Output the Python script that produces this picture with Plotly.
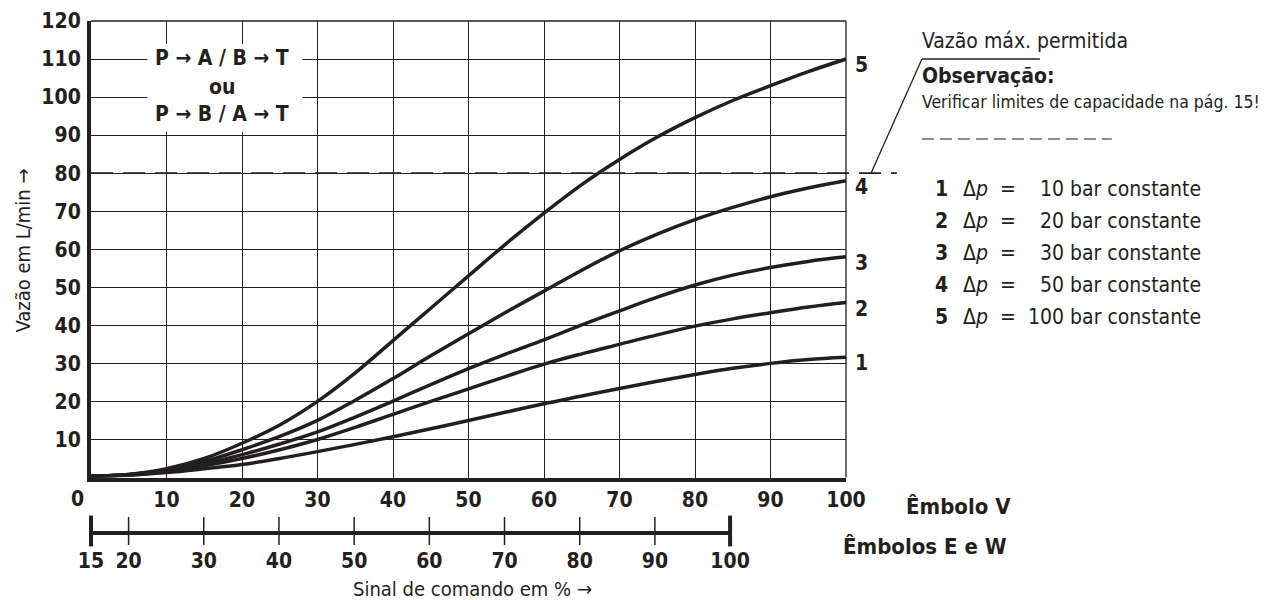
import plotly.graph_objects as go

# ---------------- data ----------------
signal_v = [0, 5, 10, 15, 20, 25, 30, 35, 40, 45, 50, 55, 60, 65, 70, 75, 80, 85, 90, 95, 100]
flow_5 = [0.3, 0.8, 2.3, 5.0, 9.0, 13.8, 20.0, 27.5, 36.0, 44.5, 53.0, 61.5, 69.5, 77.0, 83.6, 89.5, 94.6, 99.1, 103.0, 106.7, 110.0]
flow_4 = [0.3, 0.8, 2.0, 4.2, 7.3, 10.8, 15.0, 20.3, 26.0, 32.0, 37.8, 43.5, 49.0, 54.5, 59.6, 64.0, 67.8, 71.0, 73.8, 76.1, 78.0]
flow_3 = [0.3, 0.7, 1.8, 3.6, 6.0, 8.8, 12.0, 15.9, 20.1, 24.4, 28.6, 32.5, 36.2, 40.1, 43.8, 47.4, 50.6, 53.2, 55.2, 56.8, 58.0]
flow_2 = [0.3, 0.7, 1.6, 3.1, 5.0, 7.3, 10.0, 13.2, 16.6, 20.0, 23.3, 26.6, 29.8, 32.5, 35.0, 37.5, 39.8, 41.7, 43.3, 44.8, 46.0]
flow_1 = [0.3, 0.6, 1.3, 2.3, 3.4, 5.0, 6.8, 8.7, 10.7, 12.8, 15.0, 17.2, 19.4, 21.4, 23.4, 25.3, 27.1, 28.7, 30.0, 31.0, 31.6]
curve_ids = ["1", "2", "3", "4", "5"]
curves = [flow_1, flow_2, flow_3, flow_4, flow_5]
pressures = ["10", "20", "30", "50", "100"]

x_ticks = [0, 10, 20, 30, 40, 50, 60, 70, 80, 90, 100]
y_ticks = [10, 20, 30, 40, 50, 60, 70, 80, 90, 100, 110, 120]
ew_ticks = [15, 20, 30, 40, 50, 60, 70, 80, 90, 100]
max_flow = 80

# ---------------- layout helpers ----------------
W, H = 1274, 600
OX, OY = 7.5, 7.0                      # page offset of the plot div
L, R, T, B = 90.5, 846.0, 20.0, 530.0   # paper area in screenshot px
PLOT_BOTTOM = 476.5                    # bottom of main plot in screenshot px


def px(xp):
    return (xp - L) / (R - L)


def py(yp):
    return (B - yp) / (B - T)


INK = "#231f20"
FONT = "Liberation Sans Narrow, DejaVu Sans Condensed, Arial Narrow, sans-serif"

fig = go.Figure()

for cid, ys in zip(curve_ids, curves):
    fig.add_trace(go.Scatter(
        x=signal_v, y=ys, mode="lines", name=cid,
        line=dict(color=INK, width=3.5, shape="spline", smoothing=1.0),
        hoverinfo="skip", showlegend=False,
    ))

# secondary scale tick marks (Êmbolos E e W)
inner = ew_ticks[1:-1]
fig.add_trace(go.Scatter(
    x=inner, y=[0] * len(inner), xaxis="x2", yaxis="y2", mode="markers",
    marker=dict(symbol="line-ns", size=20, line=dict(color=INK, width=1.5)),
    cliponaxis=False, hoverinfo="skip", showlegend=False,
))
fig.add_trace(go.Scatter(
    x=[ew_ticks[0], ew_ticks[-1]], y=[0, 0], xaxis="x2", yaxis="y2", mode="markers",
    marker=dict(symbol="line-ns", size=22, line=dict(color=INK, width=4)),
    cliponaxis=False, hoverinfo="skip", showlegend=False,
))

main_bottom = py(PLOT_BOTTOM)

fig.update_layout(
    width=W, height=H,
    margin=dict(l=L - OX, r=W - R + OX, t=T - OY, b=H - B + OY, autoexpand=False),
    paper_bgcolor="white", plot_bgcolor="white",
    font=dict(family=FONT, color=INK, size=21),
    xaxis=dict(
        domain=[0, 1], range=[0, 100], anchor="y", automargin=False,
        tickvals=x_ticks, ticktext=[("" if v == 0 else f"<b>{v}</b>") for v in x_ticks],
        showgrid=True, gridcolor=INK, gridwidth=1.3,
        showline=True, linecolor=INK, linewidth=4, zeroline=False,
        ticks="", ticklen=0, ticklabelstandoff=0, tickfont=dict(size=21),
    ),
    yaxis=dict(
        domain=[main_bottom, 1], range=[0, 120], anchor="x", automargin=False,
        tickvals=y_ticks, ticktext=[f"<b>{v}</b>" for v in y_ticks],
        showgrid=True, gridcolor=INK, gridwidth=1.3,
        showline=True, linecolor=INK, linewidth=4, zeroline=False,
        ticks="", ticklen=0, ticklabelstandoff=2, tickfont=dict(size=21),
    ),
    xaxis2=dict(
        domain=[0, px(730)], range=[15, 100], anchor="y2", automargin=False,
        tickvals=ew_ticks, ticktext=[f"<b>{v}</b>" for v in ew_ticks],
        showgrid=False, showline=True, linecolor=INK, linewidth=4, zeroline=False,
        ticks="", ticklen=0, ticklabelstandoff=8, tickfont=dict(size=21),
    ),
    yaxis2=dict(
        domain=[0, 0.01], range=[0, 1], anchor="x2", automargin=False,
        visible=False, showgrid=False, zeroline=False,
    ),
)

shapes = []
# border top/right
shapes.append(dict(type="line", xref="paper", yref="paper", x0=0, x1=1, y0=1, y1=1,
                   line=dict(color=INK, width=1.3)))
shapes.append(dict(type="line", xref="paper", yref="paper", x0=1, x1=1, y0=main_bottom, y1=1,
                   line=dict(color=INK, width=1.3)))
# white box for flow path text
shapes.append(dict(type="rect", xref="paper", yref="paper", x0=px(147), x1=px(302),
                   y0=py(131), y1=py(43), fillcolor="white", line=dict(width=0), layer="above"))
# max flow dashed line (80 L/min) extending outside the plot
y80 = py(PLOT_BOTTOM - (PLOT_BOTTOM - T) * max_flow / 120)
shapes.append(dict(type="line", xref="paper", yref="paper", x0=0, x1=px(897), y0=y80, y1=y80,
                   line=dict(color=INK, width=1.6, dash="22px,10px")))
# leader line to note
shapes.append(dict(type="line", xref="paper", yref="paper", x0=px(871), x1=px(922),
                   y0=y80, y1=py(58), line=dict(color=INK, width=1.3)))
shapes.append(dict(type="line", xref="paper", yref="paper", x0=px(922), x1=px(1040),
                   y0=py(58), y1=py(58), line=dict(color=INK, width=1.3)))
# dashed rule under note
shapes.append(dict(type="line", xref="paper", yref="paper", x0=px(922), x1=px(1112),
                   y0=py(138), y1=py(138), line=dict(color=INK, width=1.2, dash="12px,6px")))
fig.update_layout(shapes=shapes)

ann = []


def text(x, y, s, size=21, anchor="left", bold=False, color=INK, angle=0):
    ann.append(dict(xref="paper", yref="paper", x=px(x), y=py(y), text=(f"<b>{s}</b>" if bold else s),
                    showarrow=False, xanchor=anchor, yanchor="middle", textangle=angle,
                    borderpad=0, font=dict(family=FONT, size=size, color=color)))


# curve labels at end of each curve
for cid, ys in zip(curve_ids, curves):
    ann.append(dict(xref="x", yref="y", x=signal_v[-1], y=ys[-1], text=f"<b>{cid}</b>",
                    showarrow=False, xanchor="left", yanchor="middle", xshift=8, yshift=-6,
                    borderpad=0, font=dict(family=FONT, size=21, color=INK)))

# origin label of the main x scale (offset left of the axis as in the original)
text(77, 498, str(x_ticks[0]), bold=True, anchor="center")

# flow path box
text(222, 57, "P → A / B → T", bold=True, anchor="center")
text(222, 86, "ou", bold=True, anchor="center")
text(222, 113, "P → B / A → T", bold=True, anchor="center")

# notes
text(921, 40, "Vazão máx. permitida", size=21)
text(921, 75, "Observação:", size=21, bold=True)
text(921, 101, "Verificar limites de capacidade na pág. 15!", size=17.5)

# legend
leg_y = [188, 220, 252, 284, 316]
for cid, p, yy in zip(curve_ids, pressures, leg_y):
    text(942, yy, cid, bold=True, anchor="center")
    text(962, yy, "Δ<i>p</i>  =", size=21)
    text(1202, yy, f"{p} bar constante", size=21, anchor="right")

# axis titles / scale names
text(22, 250, "Vazão em L/min →", size=20, anchor="center", angle=-90)
text(472, 588, "Sinal de comando em % →", size=20, anchor="center")
text(1012, 505, "Êmbolo V", size=22, bold=True, anchor="right")
text(1008, 545, "Êmbolos E e W", size=22, bold=True, anchor="right")

fig.update_layout(annotations=ann)

fig.write_html("out.html")
